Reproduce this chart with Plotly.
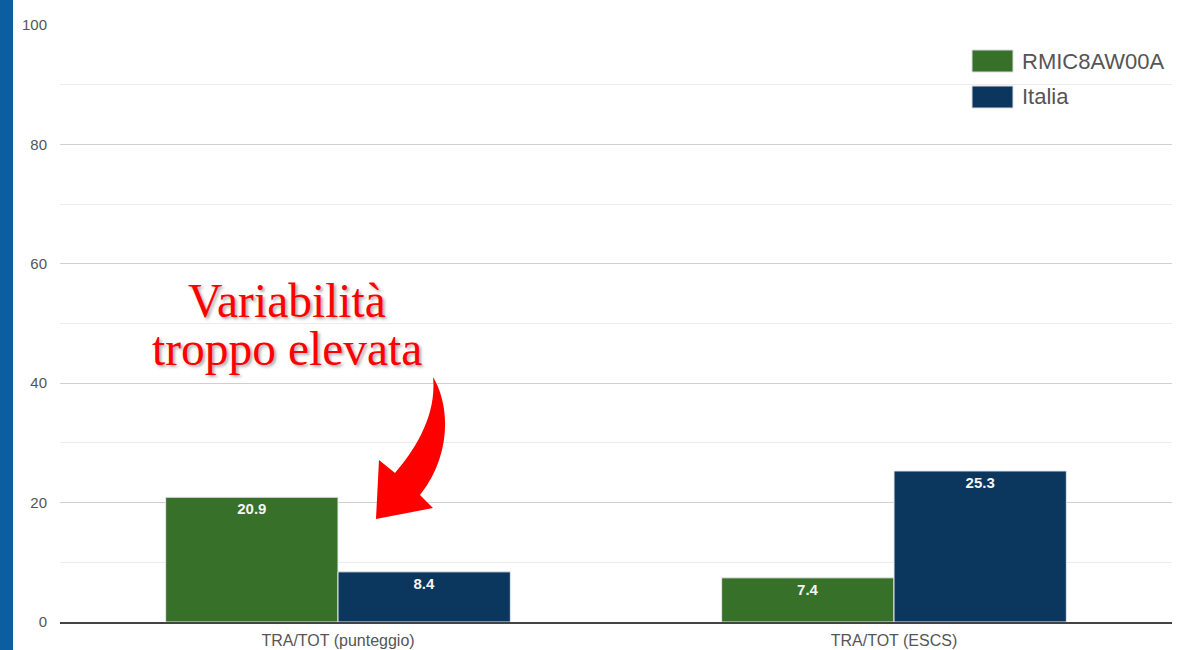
import plotly.graph_objects as go

categories = ["TRA/TOT (punteggio)", "TRA/TOT (ESCS)"]
series_names = ["RMIC8AW00A", "Italia"]
values_school = [20.9, 7.4]
values_italia = [8.4, 25.3]
colors = ["#367029", "#0b365e"]

W, H = 1183, 650
ML, MR, MT, MB = 60, 11, 25, 28
PW, PH = W - ML - MR, H - MT - MB


def px(x):
    return (x - ML) / PW


def py(y):
    return (H - MB - y) / PH


fig = go.Figure()
for name, vals, col in zip(series_names, [values_school, values_italia], colors):
    fig.add_trace(go.Bar(
        x=categories, y=vals, name=name,
        marker=dict(color=col, line=dict(color="#e8e8e8", width=1)),
        text=[f"<b>{v:.1f}</b>" for v in vals], textposition="inside",
        insidetextanchor="end",
        textfont=dict(color="#f4f4f4", size=15, family="Liberation Sans"),
        showlegend=False,
    ))

# red curved arrow (pixel points converted to paper coords)
pts = [("M", [(433, 377)]),
       ("C", [(450, 405), (452, 455), (420, 495)]),
       ("L", [(433, 508)]),
       ("L", [(376, 519)]),
       ("L", [(379, 460)]),
       ("L", [(395, 473)]),
       ("C", [(415, 450), (437, 415), (433, 377)])]
path = ""
for cmd, ps in pts:
    path += cmd + " " + " ".join(f"{px(a):.5f},{py(b):.5f}" for a, b in ps) + " "
path += "Z"

shapes = [
    dict(type="rect", xref="paper", yref="paper", x0=px(0), x1=px(13),
         y0=py(H), y1=py(0), fillcolor="#0b5e9f", line=dict(width=0), layer="above"),
    dict(type="path", xref="paper", yref="paper", path=path,
         fillcolor="#ff0000", line=dict(width=0), layer="above"),
]

# manual legend
leg_y = [61, 97]
annotations = []
for name, col, yc in zip(series_names, colors, leg_y):
    shapes.append(dict(type="rect", xref="paper", yref="paper",
                       x0=px(972), x1=px(1013), y0=py(yc + 11), y1=py(yc - 11),
                       fillcolor=col, line=dict(color="#dddddd", width=1)))
    annotations.append(dict(xref="paper", yref="paper", x=px(1020), y=py(yc),
                            text=name, showarrow=False, xanchor="left", yanchor="middle",
                            font=dict(size=22, color="#555555", family="Liberation Sans")))

for txt, yc in [("Variabilità", 301), ("troppo elevata", 349)]:
    annotations.append(dict(xref="paper", yref="paper", x=px(287), y=py(yc),
                            text=txt, showarrow=False, xanchor="center", yanchor="middle",
                            font=dict(size=47.5, color="#ff0000", family="Liberation Serif",
                                      shadow="2px 2px 3px #aaaaaa")))

fig.update_layout(
    width=W, height=H, autosize=False,
    margin=dict(l=ML, r=MR, t=MT, b=MB),
    plot_bgcolor="white", paper_bgcolor="white",
    barmode="group", bargap=0.38, bargroupgap=0.0,
    shapes=shapes, annotations=annotations,
    font=dict(family="Liberation Sans", color="#444444", size=12),
)
fig.update_xaxes(showline=True, linecolor="#444444", linewidth=1.5, automargin=False,
                 ticklabelstandoff=3,
                 tickfont=dict(size=16, color="#555555"), ticks="", showgrid=False)
fig.update_yaxes(range=[0, 100], dtick=20, showgrid=True, gridcolor="#d0d0d0",
                 gridwidth=1, zeroline=False, ticks="", ticklabelstandoff=12,
                 automargin=False,
                 tickfont=dict(size=15, color="#555555"),
                 minor=dict(dtick=10, showgrid=True, gridcolor="#ececec", gridwidth=1))

post = ("document.documentElement.style.overflow='hidden';"
        "document.body.style.margin='0';document.body.style.overflow='hidden';"
        "window.scrollTo(0,0);")
fig.write_html("out.html", config={"displayModeBar": False, "responsive": False},
               post_script=post)
